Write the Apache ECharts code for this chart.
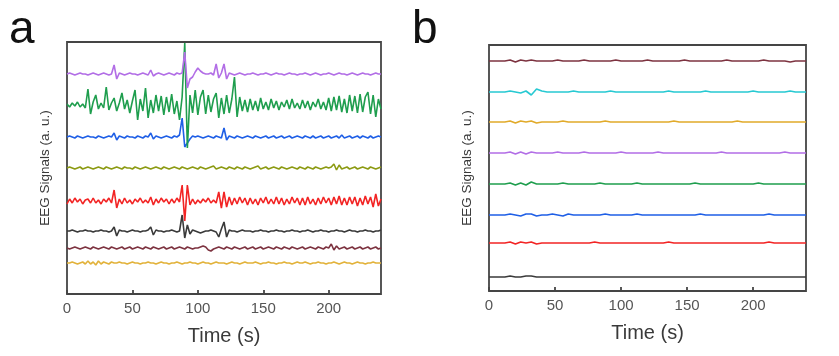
<!DOCTYPE html>
<html>
<head>
<meta charset="utf-8">
<script src="https://cdn.jsdelivr.net/npm/echarts@6/dist/echarts.min.js"></script>
<style>html,body{margin:0;padding:0;background:#fff}#c{width:839px;height:356px}</style>
</head>
<body>
<div id="c"></div>
<script>
// ---- tick labels / axis ----
const xTicks = [0, 50, 100, 150, 200];
const xMax = 240;
const stepA = 2;   // seconds between samples, panel a
const stepB = 4;   // seconds between samples, panel b

// ---- panel a: trace baselines (a.u.) and deviations ----
const baseA = { purple: 220, green: 189, blue: 157, olive: 126, red: 93, black: 63, maroon: 46, gold: 31 };

const aPurple = [
 0,1,0,-1,0,1,0,0,-1,0,
 1,0,-1,0,1,0,-1,0,9,-5,
 1,0,-1,0,1,0,0,-1,0,1,
 0,-1,4,-2,0,1,0,-1,0,1,
 0,-1,1,0,1,22,-14,-5,-3,2,
 6,3,1,0,0,1,-1,10,-4,1,
 10,-5,1,0,-1,0,1,0,-1,0,
 0,1,0,-1,0,0,1,0,-1,0,
 1,0,0,-1,0,1,0,0,-1,0,
 0,1,0,-1,0,1,0,-1,0,0,
 1,0,-1,0,1,0,0,-1,0,1,
 0,-1,0,1,0,0,-1,0,1,0,
 0];
const aGreen = [
 1,-2,2,-1,3,-2,1,-3,16,-9,
 3,10,-4,2,-3,18,-5,2,7,-6,
 2,12,-4,5,-8,4,15,-15,6,-6,
 17,-13,5,-8,10,-6,9,-10,8,-7,
 11,-9,4,-15,8,62,-43,10,-8,15,
 -10,8,15,-9,10,-7,6,12,-13,7,
 -9,10,-8,6,28,-12,8,-6,5,-7,
 6,-5,4,-6,7,-4,3,-5,6,-3,
 4,-5,3,-2,5,-4,6,-3,2,-4,
 5,-3,4,-5,3,-2,6,-4,3,-5,
 7,-6,8,-5,9,-7,6,-8,10,-6,
 9,-8,11,-7,8,13,-9,10,-12,6,
 -4];
const aBlue = [
 0,1,0,-1,1,0,-1,0,1,0,
 0,-1,1,0,-1,0,1,0,4,-3,
 1,0,-1,1,0,0,-1,1,0,-1,
 1,0,4,-2,1,0,-1,0,1,0,
 -1,1,0,2,19,-10,-6,-2,1,0,
 1,0,-1,0,1,0,-1,1,0,-1,
 9,-3,1,0,-1,1,0,-1,0,1,
 0,-1,1,0,-1,0,1,-1,0,1,
 -1,0,1,-1,0,1,-1,0,1,0,
 -1,1,0,-1,1,-1,0,1,-1,0,
 1,-1,0,1,-1,2,-1,0,1,-1,
 0,1,-1,1,0,-1,1,-1,0,1,
 0];
const aOlive = [
 0,1,0,-1,0,1,-1,0,1,0,
 -1,0,1,0,-1,1,0,-1,0,1,
 0,-1,1,0,0,-1,1,0,-1,0,
 1,0,-1,0,1,0,-1,1,0,-1,
 0,1,0,-1,1,0,-1,0,1,0,
 -1,1,0,-1,0,1,2,-1,0,1,
 0,-1,1,0,-1,1,0,-1,1,0,
 -1,0,1,2,-1,0,1,-1,0,1,
 0,-1,1,0,-1,0,1,0,-1,1,
 0,-1,1,0,-1,1,0,-1,0,1,
 0,1,4,-2,3,-1,0,1,-1,0,
 1,-1,0,1,0,-1,1,0,-1,0,
 1];
const aRed = [
 -3,2,-2,3,-1,2,-3,1,2,-2,
 3,-2,1,-3,2,-1,3,-2,11,-7,
 2,-3,3,-2,1,-3,2,-1,3,-2,
 1,-2,4,-4,2,-2,3,-1,2,-3,
 2,-2,3,-1,16,-20,16,-4,2,-3,
 1,-2,2,-1,3,-2,1,-2,9,-7,
 9,-6,4,-4,3,-3,4,-2,3,-4,
 3,-3,2,-4,3,-2,4,-3,2,-3,
 4,-3,3,-4,2,-3,4,-2,3,-4,
 3,-4,4,-3,2,-4,3,-3,4,-2,
 3,-4,4,-3,5,-4,3,-4,4,-3,
 4,-5,3,-4,5,-3,4,-6,7,-5,
 2];
const aBlack = [
 0,0,1,0,-1,0,0,1,0,0,
 -1,0,0,1,0,0,-1,0,4,-5,
 1,0,0,-1,0,1,0,0,-1,0,
 0,1,4,-4,1,0,0,-1,0,0,
 1,0,-1,0,16,-7,6,-3,1,0,
 -1,-2,-1,0,0,1,0,-1,-6,2,
 9,-6,1,0,0,-1,0,1,0,0,
 0,-1,0,0,1,0,0,-1,0,0,
 1,0,0,-1,0,0,1,0,0,-1,
 0,0,1,0,-1,0,0,1,0,0,
 -1,0,0,1,0,0,-1,0,1,0,
 0,-1,0,0,1,0,0,-1,0,0,
 1];
const aMaroon = [
 0,-1,0,1,0,-1,0,1,0,-1,
 1,0,-1,0,1,0,-1,1,0,-1,
 0,1,-1,0,1,-1,0,1,0,-1,
 1,0,-1,1,0,-1,0,1,-1,0,
 1,-1,0,1,0,-1,1,0,-1,0,
 0,1,2,1,-2,-3,-1,0,1,0,
 -1,1,0,-1,1,0,-1,0,1,-1,
 0,1,-1,0,1,-1,0,1,0,-1,
 1,0,-1,1,0,-1,1,0,-1,0,
 1,-1,0,1,0,-1,1,0,-1,1,
 0,4,-2,2,-1,0,1,-1,0,1,
 -1,0,1,-1,0,1,-1,0,1,-1,
 0];
const aGold = [
 0,0,1,0,-1,0,1,-1,2,-1,
 1,-2,2,-1,1,0,-1,1,0,0,
 1,0,0,-1,0,1,0,0,-1,0,
 0,1,0,0,-1,0,1,0,0,-1,
 0,0,1,0,-1,0,0,1,0,0,
 -1,0,1,0,0,-1,0,1,0,0,
 0,-1,0,1,0,0,-1,0,1,0,
 0,0,1,0,-1,0,0,1,0,0,
 -1,0,0,1,0,0,-1,0,1,0,
 0,1,0,-1,0,0,1,0,0,-1,
 0,0,1,0,-1,0,1,0,0,-1,
 0,1,0,0,-1,0,0,1,0,0,
 0];

// ---- panel b ----
const baseB = { maroon: 230, cyan: 199, gold: 169, purple: 138, green: 107, blue: 76, red: 48, black: 14 };
const bMaroon = [0,0,0,0,1,-1,1,0,1,0, 0,0,0,1,0,0,0,0,1,0, 0,0,0,0,1,0,0,0,0,0, 1,0,0,0,0,0,0,1,0,0, 0,0,0,0,0,1,0,0,0,0, 0,0,1,0,0,0,0,-1,0,0, 0];
const bCyan   = [0,0,0,0,1,0,-1,1,-3,3, 1,0,0,0,0,0,1,0,0,0, 0,0,0,1,0,0,0,0,0,0, 0,0,0,0,1,0,0,0,0,0, 0,1,0,0,0,0,0,0,0,0, 1,0,0,0,0,0,0,1,0,0, 0];
const bGold   = [0,0,0,0,1,-1,1,0,1,-1, 0,0,0,0,1,0,0,0,0,0, 0,0,1,0,0,0,0,0,0,0, 0,0,0,0,0,1,0,0,0,0, 0,0,0,0,0,0,0,1,0,0, 0,0,0,0,0,0,0,0,0,0, 0];
const bPurple = [0,0,0,0,1,-1,1,-1,1,0, 0,0,0,1,0,0,0,0,1,0, 0,0,0,0,0,1,0,0,0,0, 0,0,1,0,0,0,0,0,0,0, 0,0,0,0,1,0,0,0,0,0, 0,0,0,0,0,0,1,0,0,0, 0];
const bGreen  = [0,0,0,0,1,-1,1,-1,2,0, 0,0,0,0,1,0,0,0,0,0, 0,1,0,0,0,0,0,0,1,0, 0,0,0,0,0,0,0,0,0,1, 0,0,0,0,0,0,0,0,0,0, 0,1,0,0,0,0,0,0,0,0, 0];
const bBlue   = [0,0,0,0,1,0,-1,1,1,-1, 0,0,1,0,-1,1,0,0,0,0, 0,0,1,0,0,0,0,0,1,0, 0,0,0,0,0,0,0,0,0,0, 1,0,0,0,0,0,0,0,0,0, 0,0,0,1,0,0,0,0,0,0, 0];
const bRed    = [0,0,0,0,1,-1,1,0,1,-1, 0,0,0,0,0,0,0,0,0,0, 1,0,0,0,0,0,0,0,0,0, 0,0,0,0,1,0,0,0,0,0, 0,0,0,0,0,0,0,0,0,0, 0,0,0,1,0,0,0,0,0,0, 0];
const bBlack  = [0,0,0,0,1,0,0,1,1,0, 0,0,0,0,0,0,0,0,0,0, 0,0,0,0,0,0,0,0,0,0, 0,0,0,0,0,0,0,0,0,0, 0,0,0,0,0,0,0,0,0,0, 0,0,0,0,0,0,0,0,0,0, 0];

// ---- colours ----
const colors = {
  purple: '#b26ee6', green: '#1f9e4e', blue: '#1f5fe6', olive: '#8c9a12',
  red: '#f22424', black: '#3a3a3a', maroon: '#7d3340', gold: '#e2b23a',
  cyan: '#27c9d2', goldB: '#e1aa2a'
};

function pairs(arr, step, base) {
  return arr.map((v, i) => [i * step, base + v]);
}

const lw = 1.6;
const seriesA = [
  ['gold', aGold], ['maroon', aMaroon], ['black', aBlack], ['red', aRed],
  ['olive', aOlive], ['blue', aBlue], ['green', aGreen], ['purple', aPurple]
].map(([k, arr]) => ({
  type: 'line', xAxisIndex: 0, yAxisIndex: 0, showSymbol: false, symbol: 'none',
  data: pairs(arr, stepA, baseA[k]), lineStyle: { color: colors[k], width: lw },
  itemStyle: { color: colors[k] }, clip: true, animation: false
}));

const seriesB = [
  ['black', bBlack, 'black'], ['red', bRed, 'red'], ['blue', bBlue, 'blue'], ['green', bGreen, 'green'],
  ['purple', bPurple, 'purple'], ['gold', bGold, 'goldB'], ['cyan', bCyan, 'cyan'], ['maroon', bMaroon, 'maroon']
].map(([k, arr, c]) => ({
  type: 'line', xAxisIndex: 1, yAxisIndex: 1, showSymbol: false, symbol: 'none',
  data: pairs(arr, stepB, baseB[k]), lineStyle: { color: colors[c], width: lw },
  itemStyle: { color: colors[c] }, clip: true, animation: false
}));

const axisColor = '#454545';
const font = 'Liberation Sans, Arial, sans-serif';
function xAxisDef(gridIndex) {
  return {
    type: 'value', gridIndex, min: 0, max: xMax,
    axisLine: { show: false },
    axisTick: { show: true, inside: true, length: 4, customValues: xTicks, lineStyle: { color: axisColor, width: 1.8 } },
    axisLabel: { customValues: xTicks, color: '#555', fontSize: 15, margin: 7, fontFamily: font },
    splitLine: { show: false },
    name: 'Time (s)', nameLocation: 'middle', nameGap: 32,
    nameTextStyle: { color: '#3a3a3a', fontSize: 20, fontFamily: font }
  };
}
function yAxisDef(gridIndex, max) {
  return {
    type: 'value', gridIndex, min: 0, max,
    axisLine: { show: false }, axisTick: { show: false }, axisLabel: { show: false },
    splitLine: { show: false },
    name: 'EEG Signals (a. u.)', nameLocation: 'middle', nameGap: 15,
    nameTextStyle: { color: '#3a3a3a', fontSize: 13.5, fontFamily: font }
  };
}

const chart = echarts.init(document.getElementById('c'), null, { renderer: 'canvas' });
chart.setOption({
  backgroundColor: '#fff',
  animation: false,
  grid: [
    { left: 67, top: 42, width: 314, height: 252, show: true, borderColor: axisColor, borderWidth: 1.8, backgroundColor: 'transparent' },
    { left: 489, top: 45, width: 317, height: 246, show: true, borderColor: axisColor, borderWidth: 1.8, backgroundColor: 'transparent' }
  ],
  xAxis: [xAxisDef(0), xAxisDef(1)],
  yAxis: [yAxisDef(0, 252), yAxisDef(1, 246)],
  graphic: [
    { type: 'text', left: 9, top: 7, style: { text: 'a', fontSize: 46, fill: '#111', fontFamily: font } },
    { type: 'text', left: 412, top: 7, style: { text: 'b', fontSize: 46, fill: '#111', fontFamily: font } }
  ],
  series: seriesA.concat(seriesB)
});
</script>
</body>
</html>
